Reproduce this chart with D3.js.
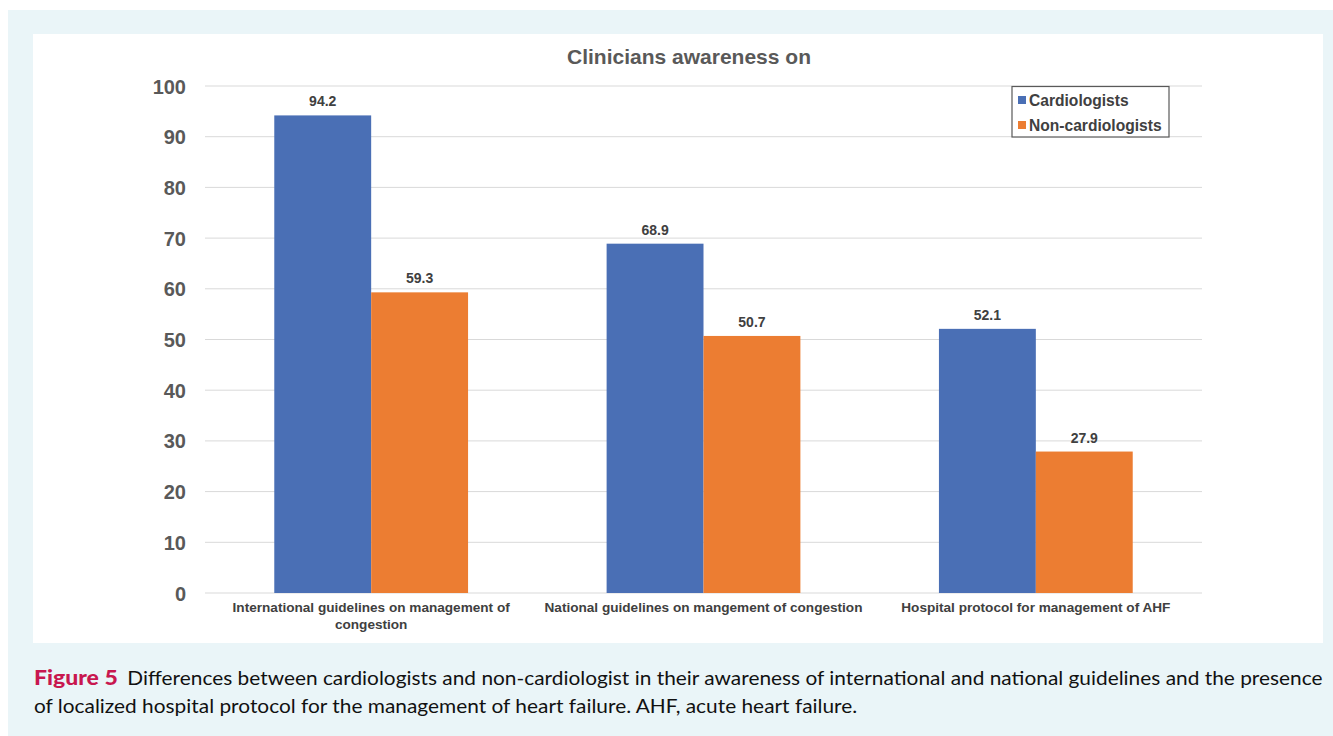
<!DOCTYPE html>
<html><head><meta charset="utf-8">
<script src="https://cdn.jsdelivr.net/npm/d3@7"></script>
<style>html,body{margin:0;padding:0;background:#fff;}svg{display:block;}</style>
</head><body>
<script>
const categories = [
  ["International guidelines on management of", "congestion"],
  ["National guidelines on mangement of congestion"],
  ["Hospital protocol for management of AHF"]
];
const seriesNames = ["Cardiologists", "Non-cardiologists"];
const cardiologists = [94.2, 68.9, 52.1];
const nonCardiologists = [59.3, 50.7, 27.9];
const yTicks = [0, 10, 20, 30, 40, 50, 60, 70, 80, 90, 100];
const colors = ["#4a6fb5", "#ec7d32"];
const titleText = "Clinicians awareness on";
const captionLabel = "Figure 5";
const captionLine1 = "Differences between cardiologists and non-cardiologist in their awareness of international and national guidelines and the presence";
const captionLine2 = "of localized hospital protocol for the management of heart failure. AHF, acute heart failure.";

const W = 1333, H = 736;
const FONT = "Liberation Sans, Arial, sans-serif";
const svg = d3.select("body").append("svg").attr("width", W).attr("height", H);

svg.append("rect").attr("x", 8).attr("y", 10).attr("width", W - 8).attr("height", H - 10).attr("fill", "#eaf5f8");
svg.append("rect").attr("x", 33).attr("y", 34).attr("width", 1290).attr("height", 609).attr("fill", "#ffffff");

const x0 = d3.scaleBand().domain(d3.range(categories.length)).range([205, 1202]).paddingInner(0).paddingOuter(0);
const x1 = d3.scaleBand().domain(seriesNames).range([0, x0.bandwidth()]).paddingInner(0).paddingOuter(0.715);
const y = d3.scaleLinear().domain([0, 100]).range([593, 86]);

// gridlines
svg.append("g").selectAll("line").data(yTicks).join("line")
  .attr("x1", 205).attr("x2", 1202)
  .attr("y1", d => y(d)).attr("y2", d => y(d))
  .attr("stroke", "#d9d9d9").attr("stroke-width", 1);

// y axis
const yAxis = d3.axisLeft(y).tickValues(yTicks).tickSize(0).tickPadding(0);
const gy = svg.append("g").attr("transform", "translate(186,0)").call(yAxis);
gy.select(".domain").remove();
gy.selectAll("text").attr("font-family", FONT)
  .attr("font-size", 20).attr("font-weight", "bold").attr("fill", "#595959").attr("dy", "0.35em");

// bars
const data = categories.map((c, i) => ({i, vals: [cardiologists[i], nonCardiologists[i]]}));
const groups = svg.append("g").selectAll("g").data(data).join("g")
  .attr("transform", d => `translate(${x0(d.i)},0)`);
groups.selectAll("rect").data(d => d.vals.map((v, k) => ({v, k}))).join("rect")
  .attr("x", d => x1(seriesNames[d.k]))
  .attr("width", x1.bandwidth())
  .attr("y", d => y(d.v))
  .attr("height", d => y(0) - y(d.v))
  .attr("fill", d => colors[d.k]);
groups.selectAll("text.val").data(d => d.vals.map((v, k) => ({v, k}))).join("text")
  .attr("class", "val")
  .attr("x", d => x1(seriesNames[d.k]) + x1.bandwidth() / 2)
  .attr("y", d => y(d.v) - 9)
  .attr("text-anchor", "middle")
  .attr("font-family", FONT)
  .attr("font-size", 14).attr("font-weight", "bold").attr("fill", "#404040")
  .text(d => d.v.toFixed(1));

// x labels
const xl = svg.append("g").selectAll("text").data(categories).join("text")
  .attr("text-anchor", "middle")
  .attr("font-family", FONT)
  .attr("font-size", 13.6).attr("font-weight", "bold").attr("fill", "#404040");
xl.each(function(lines, i) {
  d3.select(this).selectAll("tspan").data(lines).join("tspan")
    .attr("x", x0(i) + x0.bandwidth() / 2)
    .attr("y", (d, j) => 612 + j * 17)
    .text(d => d);
});

// title
svg.append("text").attr("x", 689).attr("y", 64).attr("text-anchor", "middle")
  .attr("font-family", FONT)
  .attr("font-size", 21).attr("font-weight", "bold").attr("fill", "#595959")
  .text(titleText);

// legend
const lg = svg.append("g");
lg.append("rect").attr("x", 1012).attr("y", 86.5).attr("width", 157).attr("height", 50.5)
  .attr("fill", "#fff").attr("stroke", "#595959").attr("stroke-width", 1.2);
seriesNames.forEach((s, k) => {
  const yy = 100 + k * 25;
  lg.append("rect").attr("x", 1018).attr("y", yy - 4).attr("width", 8).attr("height", 8).attr("fill", colors[k]);
  lg.append("text").attr("x", 1029).attr("y", yy + 5.5)
    .attr("font-family", FONT)
    .attr("font-size", 15.6).attr("font-weight", "bold").attr("fill", "#404040").text(s);
});

// caption
const cap = svg.append("text").attr("x", 34).attr("y", 685)
  .attr("font-family", "Lato, sans-serif").attr("font-size", 19.5);
cap.append("tspan").attr("fill", "#c8174f").attr("font-weight", "900").attr("font-size", 21.5).text(captionLabel);
cap.append("tspan").attr("fill", "#111").attr("dx", 9).text(captionLine1);
const capW = cap.node().getBBox().width;
const target = 1323 - 34;
const sx = target / capW;
cap.attr("transform", `translate(34,0) scale(${sx},1) translate(-34,0)`);
const cap2 = svg.append("text").attr("x", 34).attr("y", 713)
  .attr("font-family", "Lato, sans-serif").attr("font-size", 19.5).attr("fill", "#111")
  .text(captionLine2);
cap2.attr("transform", `translate(34,0) scale(${sx},1) translate(-34,0)`);
</script>
</body></html>
